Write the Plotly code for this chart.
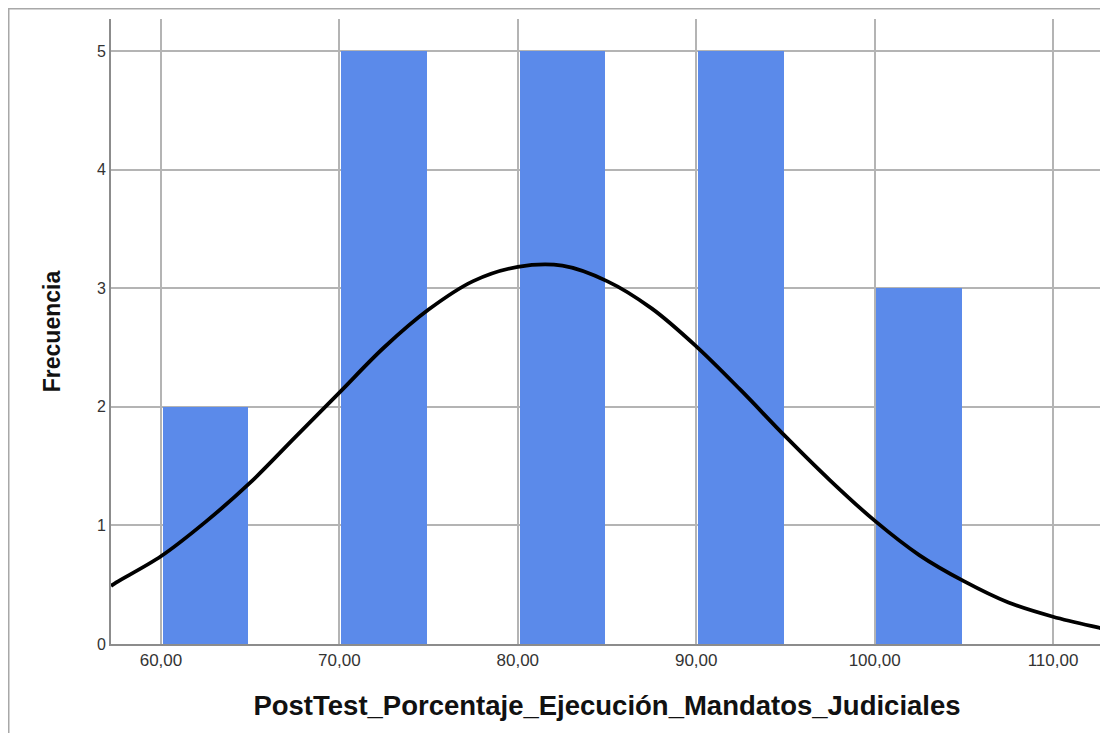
import plotly.graph_objects as go

# Histogram bins (centre of each 5-unit bin) and frequencies
bin_centers = [62.5, 72.5, 82.5, 92.5, 102.5]
frequencies = [2, 5, 5, 5, 3]

# Normal curve points
curve_x = [57.2, 57.5, 60, 62.5, 65, 67.5, 70, 72.5, 75, 77.5, 80, 82.5, 85,
           87.5, 90, 92.5, 95, 97.5, 100, 102.5, 105, 107.5, 110, 112.5, 112.8]
curve_y = [0.49, 0.52, 0.74, 1.03, 1.36, 1.74, 2.12, 2.50, 2.82, 3.06, 3.18, 3.19, 3.06,
           2.83, 2.51, 2.14, 1.75, 1.38, 1.04, 0.75, 0.53, 0.35, 0.23, 0.14, 0.13]

x_tickvals = [60, 70, 80, 90, 100, 110]
x_ticktext = ["60,00", "70,00", "80,00", "90,00", "100,00", "110,00"]
y_tickvals = [0, 1, 2, 3, 4, 5]

fig = go.Figure()
fig.add_trace(go.Bar(
    x=bin_centers, y=frequencies, width=4.8,
    marker=dict(color="#5B8AEA", line=dict(width=0)),
    hoverinfo="x+y", showlegend=False,
))
fig.add_trace(go.Scatter(
    x=curve_x, y=curve_y, mode="lines",
    line=dict(color="black", width=3.8, shape="spline", smoothing=1.0),
    showlegend=False,
))

# page body has an 8px margin, so the figure is sized to fit the window
W, H = 1100, 725
L, R, T, B = 103, 5, 11, 89
pw, ph = W - L - R, H - T - B

fig.update_layout(
    width=W, height=H,
    margin=dict(l=L, r=R, t=T, b=B),
    paper_bgcolor="white", plot_bgcolor="white",
    font=dict(family="Liberation Sans, Arial, sans-serif", color="#222"),
    bargap=0,
    xaxis=dict(
        range=[57.2, 112.8], tickvals=x_tickvals, ticktext=x_ticktext,
        showgrid=True, gridcolor="#B4B4B4", gridwidth=2,
        showline=True, linecolor="#8C8C8C", linewidth=2,
        ticks="", ticklen=0, tickfont=dict(size=17, color="#333"),
        zeroline=False, automargin=False,
        title=dict(text="<b>PostTest_Porcentaje_Ejecución_Mandatos_Judiciales</b>",
                   font=dict(size=27.5, color="#111"), standoff=26),
    ),
    yaxis=dict(
        range=[0, 5.27], tickvals=y_tickvals,
        showgrid=True, gridcolor="#B4B4B4", gridwidth=1.5,
        showline=True, linecolor="#8C8C8C", linewidth=2,
        ticks="", tickfont=dict(size=16, color="#333"),
        zeroline=False, automargin=False,
        title=dict(text="<b>Frecuencia</b>", font=dict(size=23, color="#111"), standoff=30),
    ),
    shapes=[
        dict(type="line", xref="paper", yref="paper",
             x0=-L / pw, x1=1 + R / pw,
             y0=1 + T / ph, y1=1 + T / ph,
             line=dict(color="#A8A8A8", width=3)),
        dict(type="line", xref="paper", yref="paper",
             x0=-L / pw, x1=-L / pw,
             y0=1 + T / ph, y1=-B / ph,
             line=dict(color="#A8A8A8", width=3)),
    ],
)

fig.write_html("out.html")
